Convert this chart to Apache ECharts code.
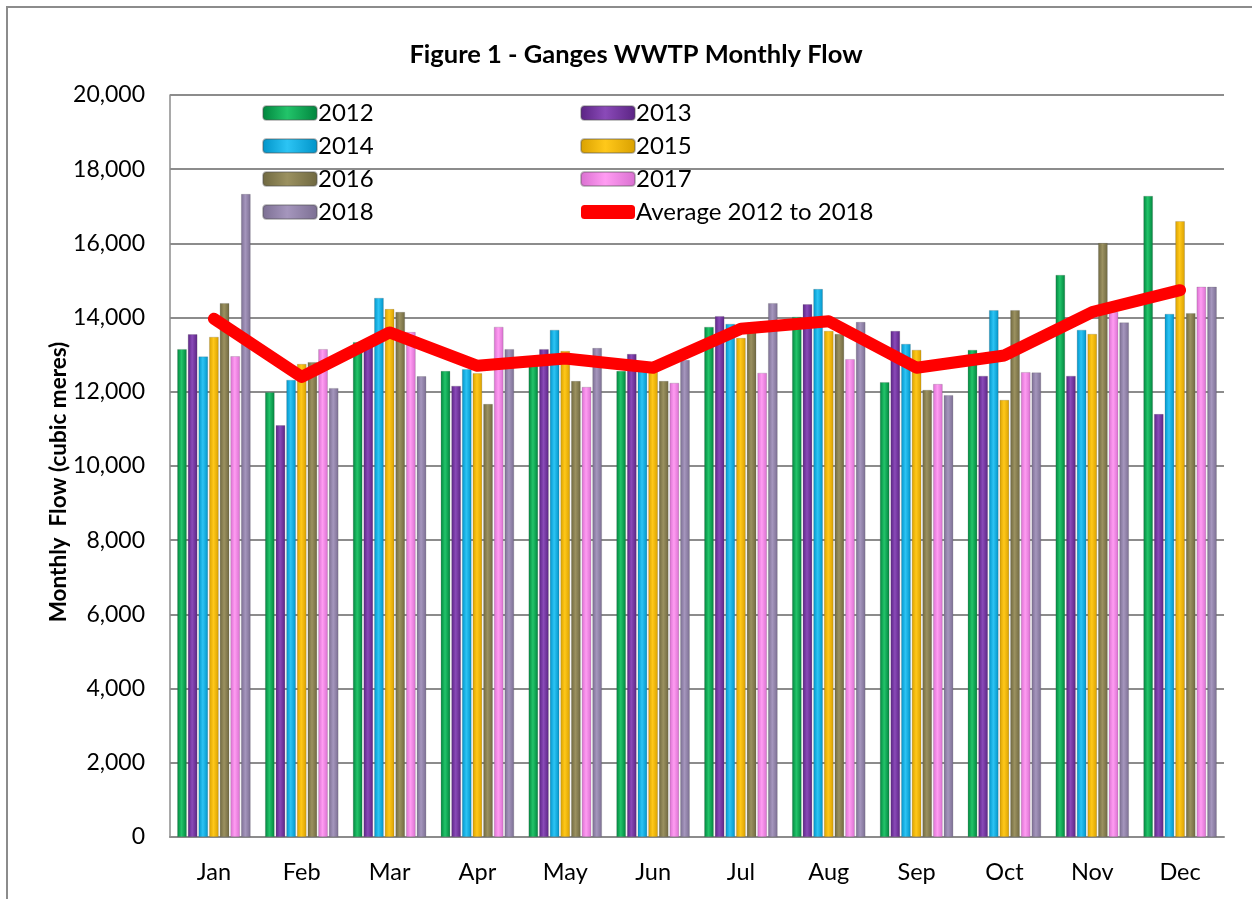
<!DOCTYPE html>
<html>
<head>
<meta charset="utf-8">
<script src="https://cdn.jsdelivr.net/npm/echarts@6/dist/echarts.min.js"></script>
<style>
  html, body { margin: 0; padding: 0; background: #fff; }
  #chart { width: 1252px; height: 899px; }
</style>
</head>
<body>
<div id="chart"></div>
<script>
const months = ['Jan', 'Feb', 'Mar', 'Apr', 'May', 'Jun', 'Jul', 'Aug', 'Sep', 'Oct', 'Nov', 'Dec']

// monthly flow per year (cubic metres)
const flow2012 = [13150, 11990, 13340, 12560, 12800, 12560, 13750, 14020, 12260, 13130, 15150, 17280]
const flow2013 = [13550, 11100, 13300, 12160, 13150, 13020, 14040, 14360, 13640, 12430, 12430, 11400]
const flow2014 = [12950, 12320, 14530, 12610, 13670, 12700, 13830, 14770, 13290, 14200, 13670, 14100]
const flow2015 = [13480, 12750, 14230, 12500, 13100, 12600, 13450, 13640, 13130, 11780, 13560, 16600]
const flow2016 = [14390, 12800, 14150, 11670, 12290, 12290, 13700, 13560, 12050, 14200, 16010, 14120]
const flow2017 = [12960, 13150, 13610, 13750, 12130, 12240, 12510, 12880, 12210, 12530, 14150, 14830]
const flow2018 = [17330, 12100, 12420, 13150, 13180, 12860, 14390, 13880, 11910, 12520, 13870, 14830]
const average = [13970, 12400, 13600, 12700, 12900, 12650, 13700, 13900, 12650, 12980, 14150, 14740]

const years = ['2012', '2013', '2014', '2015', '2016', '2017', '2018']
const yearData = [flow2012, flow2013, flow2014, flow2015, flow2016, flow2017, flow2018]
// [dark edge, light centre]
const yearColors = [
  ['#00843d', '#22c46a'],
  ['#5a2383', '#8a4ab8'],
  ['#0093c8', '#2cc4f4'],
  ['#d9a000', '#ffc81a'],
  ['#6f6840', '#9b9160'],
  ['#d96fd0', '#ff9cf2'],
  ['#7b6e92', '#a596bd']
]

const font = 'Lato, "Open Sans", sans-serif'

const chart = echarts.init(document.getElementById('chart'), null, { renderer: 'canvas' })

const barSeries = years.map((y, i) => ({
  name: y,
  type: 'bar',
  barWidth: 9.5,
  barGap: '12%',
  itemStyle: {
    color: new echarts.graphic.LinearGradient(0, 0, 1, 0, [
      { offset: 0, color: yearColors[i][0] },
      { offset: 0.45, color: yearColors[i][1] },
      { offset: 1, color: yearColors[i][0] }
    ]),
    borderColor: 'rgba(80,80,80,0.35)',
    borderWidth: 0.6
  },
  data: yearData[i]
}))

const legendText = { fontSize: 24, color: '#000', fontFamily: font, lineHeight: 24, padding: [0, 0, 0, -4] }
const avgLegend = { name: 'Average 2012 to 2018', icon: 'roundRect', itemStyle: { color: '#ff0000' } }

const option = {
  animation: false,
  title: {
    text: 'Figure 1 - Ganges WWTP Monthly Flow',
    left: 631,
    textAlign: 'center',
    top: 37,
    textStyle: { fontSize: 25.5, fontWeight: 'bold', fontFamily: font, color: '#000' }
  },
  legend: [
    {
      orient: 'vertical',
      left: 262,
      top: 101,
      padding: 0,
      itemWidth: 54,
      itemHeight: 14,
      itemGap: 9,
      data: ['2012', '2014', '2016', '2018'],
      textStyle: legendText
    },
    {
      orient: 'vertical',
      left: 580,
      top: 101,
      padding: 0,
      itemWidth: 54,
      itemHeight: 14,
      itemGap: 9,
      data: ['2013', '2015', '2017', avgLegend],
      textStyle: legendText
    }
  ],
  graphic: [{
    type: 'rect',
    shape: { x: 7, y: 7, width: 1300, height: 950 },
    style: { fill: 'none', stroke: '#8c8c8c', lineWidth: 2 },
    silent: true
  }],
  grid: { left: 170, right: 28, top: 95, bottom: 62 },
  xAxis: {
    type: 'category',
    data: months,
    axisLine: { lineStyle: { color: '#8c8c8c', width: 2 } },
    axisTick: { show: false },
    axisLabel: { fontSize: 23.5, color: '#000', fontFamily: font, margin: 23 }
  },
  yAxis: {
    type: 'value',
    min: 0,
    max: 20000,
    interval: 2000,
    name: 'Monthly  Flow (cubic meres)',
    nameLocation: 'middle',
    nameGap: 100,
    nameMoveOverlap: false,
    nameTextStyle: { fontSize: 22.5, fontWeight: 'bold', fontFamily: font, color: '#000', padding: [0, 32, 0, 0] },
    axisLine: { show: true, lineStyle: { color: '#8c8c8c', width: 1.5 } },
    axisTick: { show: false },
    axisLabel: {
      fontSize: 23, color: '#000', fontFamily: font, margin: 25,
      formatter: v => v.toLocaleString('en-US')
    },
    splitLine: { lineStyle: { color: '#8c8c8c', width: 2 } }
  },
  series: barSeries.concat([{
    name: 'Average 2012 to 2018',
    type: 'line',
    symbol: 'none',
    itemStyle: { color: '#ff0000' },
    lineStyle: { color: '#ff0000', width: 12, cap: 'round', join: 'round' },
    data: average,
    z: 5
  }])
}

chart.setOption(option)
</script>
</body>
</html>
